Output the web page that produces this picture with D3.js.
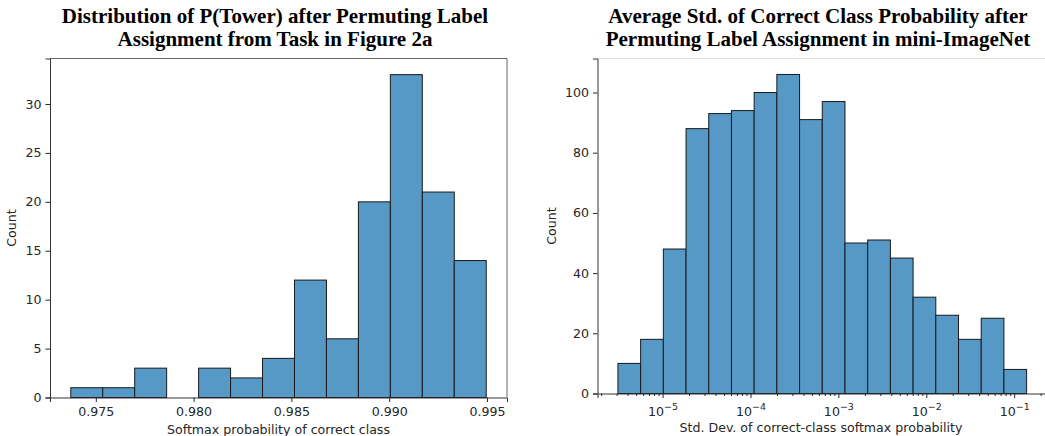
<!DOCTYPE html>
<html>
<head>
<meta charset="utf-8">
<script src="https://cdn.jsdelivr.net/npm/d3@7"></script>
<style>
  body { margin: 0; background: #fff; }
  svg { display: block; }
  .tick text { font-family: "DejaVu Sans", sans-serif; font-size: 12.6px; fill: #262626; }
  .tick line { stroke: #262626; }
  .axis path.domain { stroke: #333; }
  .label { font-family: "DejaVu Sans", sans-serif; font-size: 12.6px; fill: #262626; }
  .title { font-family: "Liberation Serif", "Times New Roman", serif; font-weight: bold; font-size: 21px; fill: #000; }
</style>
</head>
<body>
<div id="container"></div>
<script>
// left panel: P(Tower) histogram
const leftTitle = ["Distribution of P(Tower) after Permuting Label", "Assignment from Task in Figure 2a"];
const leftCounts = [1, 1, 3, 0, 3, 2, 4, 12, 6, 20, 33, 21, 14];
const leftBinStart = 0.97372;
const leftBinWidth = 0.001634;
const leftTicksX = [0.975, 0.980, 0.985, 0.990, 0.995];
const leftTicksY = [0, 5, 10, 15, 20, 25, 30];
const leftXLabel = "Softmax probability of correct class";

// right panel: std dev histogram, log-spaced bins (edges in log10)
const rightTitle = ["Average Std. of Correct Class Probability after", "Permuting Label Assignment in mini-ImageNet"];
const rightCounts = [10, 18, 48, 88, 93, 94, 100, 106, 91, 97, 50, 51, 45, 32, 26, 18, 25, 8];
const rightLogStart = -5.508;
const rightLogWidth = 0.2583;
const rightTicksX = [-5, -4, -3, -2, -1];
const rightTicksY = [0, 20, 40, 60, 80, 100];
const rightXLabel = "Std. Dev. of correct-class softmax probability";

const W = 1045, H = 436;
const FILL = "#5799c6";

const svg = d3.select("#container").append("svg")
	.attr("width", W)
	.attr("height", H);

function drawTitle(lines, cx) {
	const t = svg.append("text").attr("class", "title").attr("text-anchor", "middle");
	lines.forEach((l, i) => {
		t.append("tspan").attr("x", cx).attr("y", 22.7 + i * 23).text(l);
	});
}

function frame(g, x0, x1, y0, y1, topColor) {
	g.append("line").attr("x1", x0).attr("x2", x1).attr("y1", y0).attr("y2", y0).attr("stroke", topColor);
	g.append("line").attr("x1", x1).attr("x2", x1).attr("y1", y0).attr("y2", y1).attr("stroke", topColor);
}

// ---------- left ----------
{
	const L = 50, R = 507, T = 58.5, B = 397.5;
	const lo = leftBinStart, hi = leftBinStart + leftCounts.length * leftBinWidth;
	const pad = (hi - lo) * 0.05;
	const x = d3.scaleLinear().domain([lo - pad, hi + pad]).range([L, R]);
	const y = d3.scaleLinear().domain([0, d3.max(leftCounts) * 1.05]).range([B, T]);

	const g = svg.append("g");
	const bars = leftCounts.map((c, i) => ({c, e: lo + i * leftBinWidth})).filter(d => d.c > 0);
	g.selectAll("rect.bar").data(bars)
		.enter().append("rect")
		.attr("class", "bar")
		.attr("x", d => x(d.e))
		.attr("width", d => x(d.e + leftBinWidth) - x(d.e))
		.attr("y", d => y(d.c))
		.attr("height", d => B - y(d.c))
		.attr("fill", FILL)
		.attr("stroke", "#1a1a1a")
		.attr("stroke-width", 1);

	frame(g, L, R, T, B, "#666");

	g.append("g").attr("class", "axis")
		.attr("transform", `translate(0,${B})`)
		.call(d3.axisBottom(x).tickValues(leftTicksX).tickFormat(d3.format(".3f")).tickSizeOuter(0).tickSize(4.5).tickPadding(5));
	g.append("g").attr("class", "axis")
		.attr("transform", `translate(${L},0)`)
		.call(d3.axisLeft(y).tickValues(leftTicksY).tickSizeOuter(0).tickSize(4.5).tickPadding(4));

	g.append("text").attr("class", "label").attr("text-anchor", "middle")
		.attr("x", (L + R) / 2).attr("y", 434).text(leftXLabel);
	g.append("text").attr("class", "label").attr("text-anchor", "middle")
		.attr("transform", `translate(16,${(T + B) / 2}) rotate(-90)`).text("Count");

	drawTitle(leftTitle, 275);
}

// ---------- right ----------
{
	const L = 597.5, T = 58.5, B = 393.5;
	const lo = rightLogStart, hi = rightLogStart + rightCounts.length * rightLogWidth;
	const pad = (hi - lo) * 0.05;
	const decade = 87.9;
	const R = L + (hi - lo + 2 * pad) * decade;
	const x = d3.scaleLog().domain([Math.pow(10, lo - pad), Math.pow(10, hi + pad)]).range([L, R]);
	const y = d3.scaleLinear().domain([0, d3.max(rightCounts) * 1.05]).range([B, T]);

	const g = svg.append("g");
	const bars = rightCounts.map((c, i) => ({c, a: Math.pow(10, lo + i * rightLogWidth), b: Math.pow(10, lo + (i + 1) * rightLogWidth)}));
	g.selectAll("rect.bar").data(bars)
		.enter().append("rect")
		.attr("class", "bar")
		.attr("x", d => x(d.a))
		.attr("width", d => x(d.b) - x(d.a))
		.attr("y", d => y(d.c))
		.attr("height", d => B - y(d.c))
		.attr("fill", FILL)
		.attr("stroke", "#1a1a1a")
		.attr("stroke-width", 1);

	frame(g, L, R, T, B, "#ddd");

	// minor ticks
	const minor = [];
	for (let e = -6; e <= 0; e++) for (let m = 2; m <= 9; m++) {
		const v = m * Math.pow(10, e);
		if (v >= x.domain()[0] && v <= x.domain()[1]) minor.push(v);
	}
	g.append("g").attr("class", "axis")
		.attr("transform", `translate(0,${B})`)
		.call(d3.axisBottom(x).tickValues(minor).tickFormat("").tickSizeOuter(0).tickSize(2.5))
		.select(".domain").remove();

	const ax = g.append("g").attr("class", "axis")
		.attr("transform", `translate(0,${B})`)
		.call(d3.axisBottom(x).tickValues(rightTicksX.map(e => Math.pow(10, e))).tickFormat("").tickSizeOuter(0).tickSize(4.5));
	ax.selectAll(".tick").each(function(d) {
		const e = Math.round(Math.log10(d));
		const t = d3.select(this).append("text")
			.attr("y", 22).attr("text-anchor", "middle").attr("fill", "#262626");
		t.append("tspan").text("10");
		t.append("tspan").attr("dy", -5.5).attr("font-size", "9.5px").text("\u2212" + Math.abs(e));
	});

	g.append("g").attr("class", "axis")
		.attr("transform", `translate(${L},0)`)
		.call(d3.axisLeft(y).tickValues(rightTicksY).tickSizeOuter(0).tickSize(4.5).tickPadding(4));

	g.append("text").attr("class", "label").attr("text-anchor", "middle")
		.attr("x", 821).attr("y", 432).text(rightXLabel);
	g.append("text").attr("class", "label").attr("text-anchor", "middle")
		.attr("transform", `translate(556,${(T + B) / 2}) rotate(-90)`).text("Count");

	drawTitle(rightTitle, 818);
}
</script>
</body>
</html>
